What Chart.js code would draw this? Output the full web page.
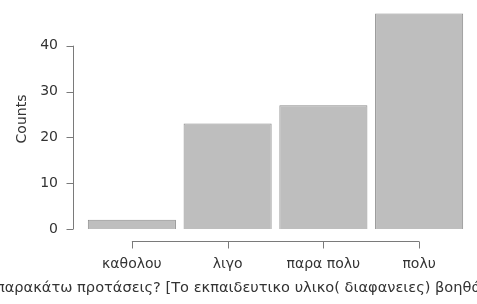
<!DOCTYPE html>
<html>
<head>
<meta charset="utf-8">
<script src="https://cdn.jsdelivr.net/npm/chart.js@4.4.1/dist/chart.umd.min.js"></script>
<style>
  html, body { margin: 0; padding: 0; background: #fff; }
  #wrap { width: 477px; height: 304px; }
</style>
</head>
<body>
<div id="wrap"><canvas id="barChart"></canvas></div>
<script>
var categories = ['καθολου', 'λιγο', 'παρα πολυ', 'πολυ']
var counts = [2, 23, 27, 47]
var yTicks = [0, 10, 20, 30, 40]
var xTitle = 'παρακάτω προτάσεις? [Το εκπαιδευτικο υλικο( διαφανειες) βοηθά'

var FONT = 'DejaVu Sans, sans-serif'
var AXIS = '#7a7a7a'

// R style axes: y line only over the tick range, x line from first to last bar centre
var rAxes = {
  id: 'rAxes',
  afterDraw: function (chart) {
    var ctx = chart.ctx
    var area = chart.chartArea
    var y = chart.scales.y
    var x = chart.scales.x
    ctx.save()
    ctx.strokeStyle = AXIS
    ctx.lineWidth = 1
    var ax = Math.round(area.left - 11) + 0.5
    ctx.beginPath()
    ctx.moveTo(ax, y.getPixelForValue(yTicks[0]))
    ctx.lineTo(ax, y.getPixelForValue(yTicks[yTicks.length - 1]))
    yTicks.forEach(function (v) {
      var py = Math.round(y.getPixelForValue(v)) + 0.5
      ctx.moveTo(ax, py)
      ctx.lineTo(ax - 7, py)
    })
    var ay = Math.round(area.bottom + 12) + 0.5
    ctx.moveTo(x.getPixelForValue(0), ay)
    ctx.lineTo(x.getPixelForValue(categories.length - 1), ay)
    categories.forEach(function (c, i) {
      var px = Math.round(x.getPixelForValue(i)) + 0.5
      ctx.moveTo(px, ay)
      ctx.lineTo(px, ay + 7)
    })
    ctx.stroke()

    // the long x title runs off both edges in the original, so draw it without maxWidth
    var tb = chart.titleBlock
    ctx.fillStyle = '#333'
    ctx.font = '14.6px ' + FONT
    ctx.textAlign = 'center'
    ctx.textBaseline = 'middle'
    ctx.fillText(xTitle, chart.width / 2, tb.top + 6 + (tb.height - 6) / 2)
    ctx.restore()
  }
}

new Chart(document.getElementById('barChart'), {
  type: 'bar',
  data: {
    labels: categories,
    datasets: [{
      data: counts,
      backgroundColor: '#bebebe',
      borderColor: '#8c8c8c',
      borderWidth: 1,
      barPercentage: 0.92,
      categoryPercentage: 1
    }]
  },
  options: {
    responsive: true,
    maintainAspectRatio: false,
    animation: false,
    layout: { padding: { top: 9, right: 10, left: 4, bottom: 7 } },
    plugins: {
      legend: { display: false },
      tooltip: { enabled: false },
      title: {
        display: true,
        position: 'bottom',
        text: xTitle,
        color: 'rgba(0,0,0,0)',
        font: { family: FONT, size: 15, weight: 'normal' },
        padding: { top: 6, bottom: 0 }
      }
    },
    scales: {
      x: {
        grid: { display: false, drawTicks: false },
        border: { display: false },
        afterFit: function (scale) { scale.height = 44 },
        ticks: {
          color: '#333',
          font: { family: FONT, size: 14 },
          padding: 27,
          maxRotation: 0
        }
      },
      y: {
        min: 0,
        max: 48,
        grid: { display: false, drawTicks: false },
        border: { display: false },
        afterFit: function (scale) {
          scale.width = 80
          scale.paddingTop = 0
          scale.paddingBottom = 0
        },
        afterBuildTicks: function (scale) {
          scale.ticks = yTicks.map(function (v) { return { value: v } })
        },
        ticks: {
          color: '#333',
          font: { family: FONT, size: 14 },
          padding: 26
        },
        title: {
          display: true,
          text: 'Counts',
          color: '#333',
          font: { family: FONT, size: 14 },
          padding: { top: 10, bottom: 0 }
        }
      }
    }
  },
  plugins: [rAxes]
})
</script>
</body>
</html>
